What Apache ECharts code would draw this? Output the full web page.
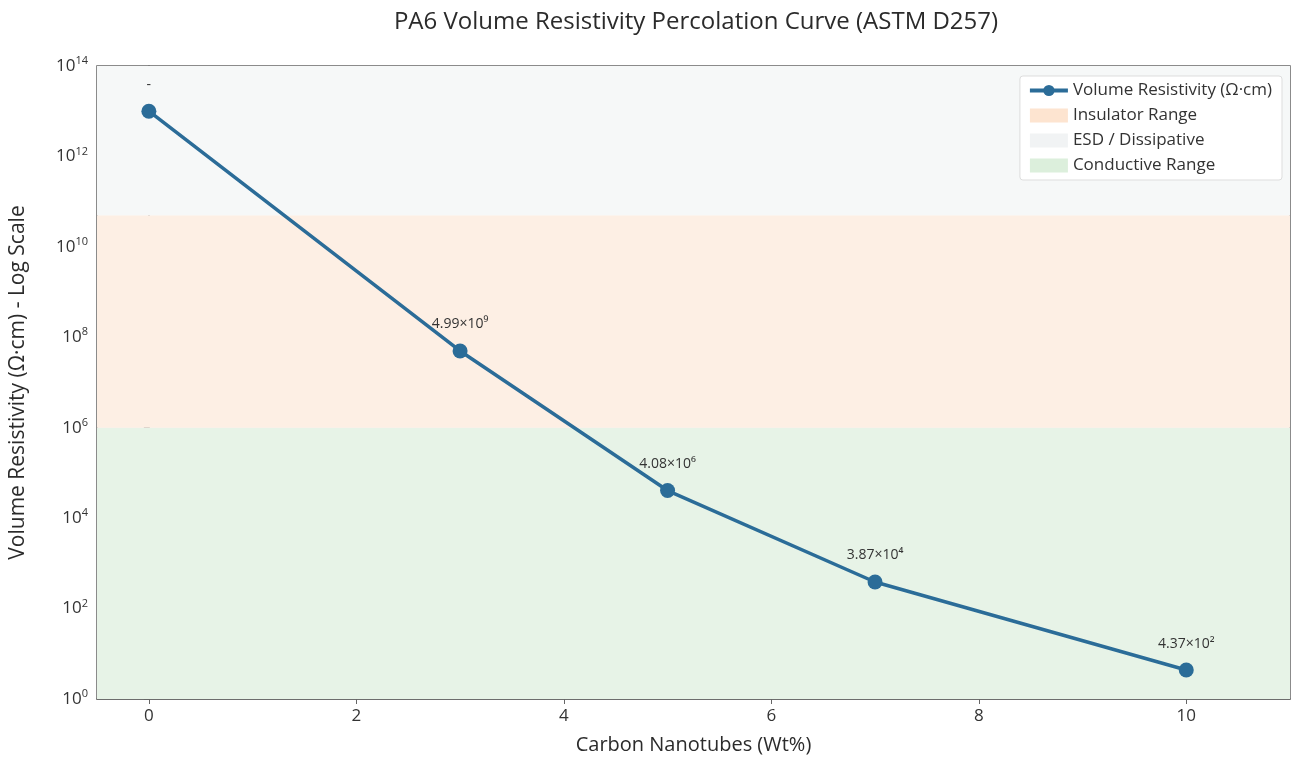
<!DOCTYPE html>
<html>
<head>
<meta charset="utf-8">
<script src="https://cdn.jsdelivr.net/npm/echarts@6/dist/echarts.min.js"></script>
<style>
  html, body { margin: 0; padding: 0; background: #fff; }
  #main { width: 1303px; height: 760px; }
</style>
</head>
<body>
<div id="main"></div>
<script>
// wt% CNT vs volume resistivity (plotted value), labels as printed in the picture
var cntWt = [0, 3, 5, 7, 10];
var resistivity = [1.0e13, 4.99e7, 4.08e4, 3.87e2, 4.37];
var pointLabels = ["-", "4.99×10⁹", "4.08×10⁶", "3.87×10⁴", "4.37×10²"];
var xTicks = [0, 2, 4, 6, 8, 10];
var xRange = [-0.5, 11];

// band limits (Ω·cm)
var conductiveBand = [1, 1e6];
var insulatorBand = [1e6, 5e10];
var esdBand = [5e10, 1e14];

var font = "Open Sans";
var chart = echarts.init(document.getElementById("main"));

function band(lims, color) {
    return [
        { xAxis: xRange[0], yAxis: lims[0], itemStyle: { color: color } },
        { xAxis: xRange[1], yAxis: lims[1] }
    ];
}

// legend-only series for the shaded ranges
function legendOnly(name, color) {
    return { name: name, type: "line", data: [], itemStyle: { color: color }, lineStyle: { color: color } };
}

var option = {
    backgroundColor: "#fff",
    textStyle: { fontFamily: font },
    title: {
        text: "PA6 Volume Resistivity Percolation Curve (ASTM D257)",
        left: 691,
        textAlign: "center",
        top: 5,
        textStyle: { fontSize: 24, fontWeight: "normal", color: "#2b2b2b", fontFamily: font }
    },
    legend: {
        orient: "vertical",
        right: 21,
        top: 76,
        itemWidth: 38,
        itemHeight: 14,
        itemGap: 8,
        padding: [6, 10, 6, 8],
        backgroundColor: "#fff",
        borderColor: "#ddd",
        borderWidth: 1,
        borderRadius: 3,
        textStyle: { fontSize: 17, color: "#333", fontFamily: font },
        data: [
            { name: "Volume Resistivity (Ω·cm)", lineStyle: { width: 4 } },
            { name: "Insulator Range", icon: "rect", itemStyle: { color: "#fde4d0" } },
            { name: "ESD / Dissipative", icon: "rect", itemStyle: { color: "#f1f3f4" } },
            { name: "Conductive Range", icon: "rect", itemStyle: { color: "#dcefdc" } }
        ]
    },
    grid: {
        left: 93,
        right: 13,
        top: 66,
        bottom: 60,
        show: true,
        borderColor: "#666",
        borderWidth: 1.5,
        backgroundColor: "transparent"
    },
    xAxis: {
        type: "value",
        min: xRange[0],
        max: xRange[1],
        name: "Carbon Nanotubes (Wt%)",
        nameLocation: "middle",
        nameGap: 36,
        nameTextStyle: { fontSize: 20, color: "#2b2b2b" },
        axisLine: { lineStyle: { color: "#666", width: 1.5 } },
        axisTick: { customValues: xTicks, length: 5, lineStyle: { color: "#666" } },
        axisLabel: { customValues: xTicks, fontSize: 17, color: "#333", margin: 9 },
        splitLine: { show: false }
    },
    yAxis: {
        type: "log",
        logBase: 10,
        min: 1,
        max: 1e14,
        interval: 2,
        name: "Volume Resistivity (Ω·cm) - Log Scale",
        nameLocation: "middle",
        nameGap: 68,
        nameTextStyle: { fontSize: 21, color: "#2b2b2b" },
        axisLine: { show: true, lineStyle: { color: "#666", width: 1.5 } },
        axisTick: { show: true, length: 5, lineStyle: { color: "#666" } },
        minorTick: { show: false },
        splitLine: { show: true, lineStyle: { color: "rgba(0,0,0,0.04)" } },
        axisLabel: {
            color: "#333",
            margin: 9,
            formatter: function (v) {
                var e = Math.round(Math.log10(v));
                return "{b|10}{s|" + e + "}";
            },
            rich: {
                b: { fontSize: 17, color: "#333", fontFamily: font },
                s: { fontSize: 11, color: "#333", fontFamily: font, padding: [0, 0, 10, 0] }
            }
        }
    },
    series: [
        legendOnly("Insulator Range", "#fde4d0"),
        legendOnly("ESD / Dissipative", "#f1f3f4"),
        legendOnly("Conductive Range", "#dcefdc"),
        {
            name: "Volume Resistivity (Ω·cm)",
            type: "line",
            z: 5,
            data: cntWt.map(function (x, i) { return [x, resistivity[i]]; }),
            symbol: "circle",
            symbolSize: 15,
            itemStyle: { color: "#2b6c98" },
            lineStyle: { color: "#2b6c98", width: 3.5 },
            label: {
                show: true,
                position: "top",
                distance: 12,
                fontSize: 14,
                color: "#333",
                formatter: function (p) { return pointLabels[p.dataIndex]; }
            },
            markArea: {
                silent: true,
                z: 1,
                label: { show: false },
                data: [
                    band(conductiveBand, "#e7f3e7"),
                    band(insulatorBand, "#fdefe4"),
                    band(esdBand, "#f6f8f8")
                ]
            }
        }
    ]
};
chart.setOption(option);
</script>
</body>
</html>
